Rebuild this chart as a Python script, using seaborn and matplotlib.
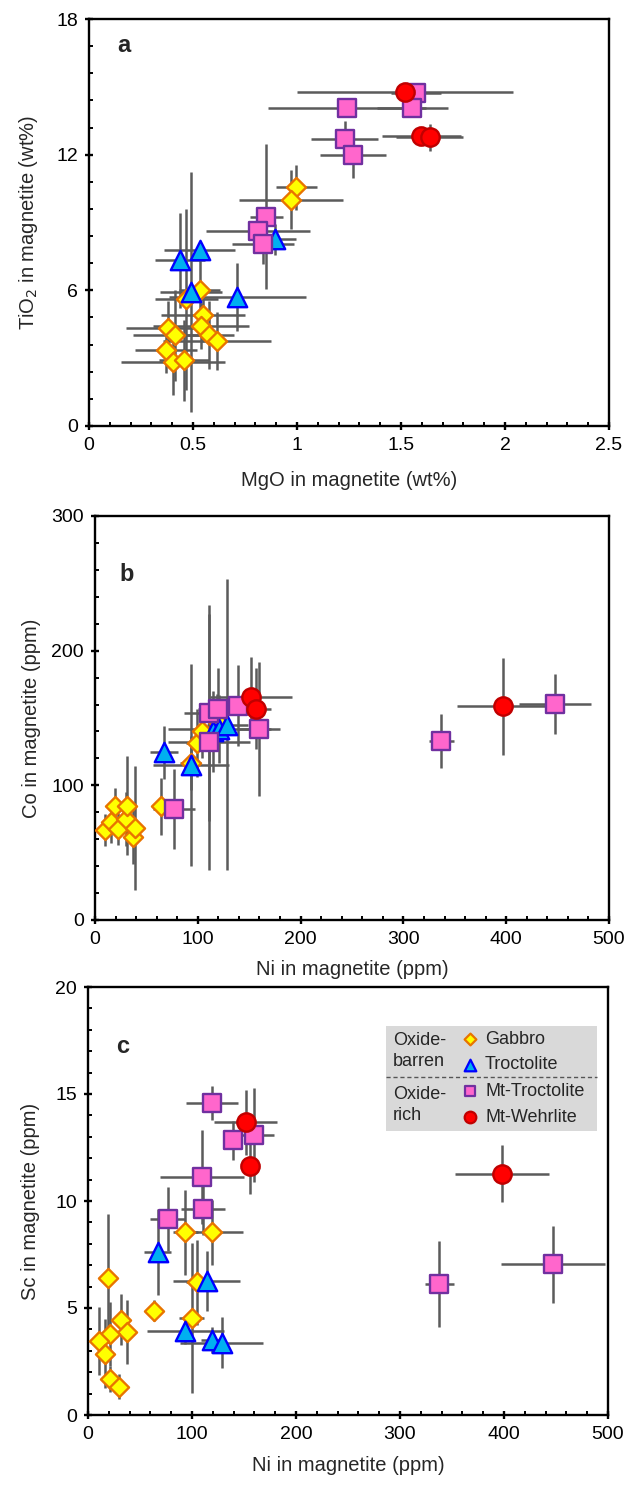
import numpy as np
import pandas as pd
import matplotlib.pyplot as plt
import seaborn as sns
from matplotlib.ticker import MultipleLocator, FuncFormatter
from matplotlib.patches import Rectangle

sns.set_theme(style="white")
plt.rcParams['font.family'] = ['Liberation Sans', 'DejaVu Sans']

# ---- panel a: MgO vs TiO2 (wt%) ----
gabbro_mgo = [0.997, 0.970, 0.532, 0.468, 0.548, 0.537, 0.575, 0.616, 0.380, 0.412, 0.369, 0.404, 0.457]
gabbro_tio2 = [10.56, 10.01, 6.00, 5.60, 4.91, 4.42, 4.01, 3.76, 4.35, 4.01, 3.35, 2.85, 2.91]
gabbro_mgo_err = [0.10, 0.25, 0.10, 0.15, 0.20, 0.23, 0.12, 0.26, 0.20, 0.20, 0.15, 0.25, 0.12]
gabbro_tio2_err = [1.0, 1.3, 2.0, 4.0, 1.2, 1.0, 1.5, 1.3, 1.2, 2.0, 1.0, 1.5, 1.8]

troct_mgo = [0.893, 0.532, 0.436, 0.489, 0.713]
troct_tio2 = [8.25, 7.78, 7.34, 5.94, 5.72]
troct_mgo_err = [0.10, 0.17, 0.12, 0.15, 0.33]
troct_tio2_err = [0.7, 0.4, 2.1, 5.3, 1.5]

mtt_mgo = [1.574, 1.555, 1.242, 1.229, 1.270, 0.853, 0.813, 0.837]
mtt_tio2 = [14.72, 14.06, 14.06, 12.70, 11.97, 9.25, 8.62, 8.07]
mtt_mgo_err = [0.12, 0.17, 0.38, 0.16, 0.16, 0.08, 0.25, 0.15]
mtt_tio2_err = [0.3, 0.3, 0.3, 0.8, 1.0, 3.2, 0.5, 0.9]

mtw_mgo = [1.518, 1.598, 1.638]
mtw_tio2 = [14.79, 12.81, 12.76]
mtw_mgo_err = [0.52, 0.19, 0.16]
mtw_tio2_err = [0.2, 0.3, 0.6]

# ---- panel b: Ni vs Co (ppm) ----
gabbro_ni_b = [9.7, 15.6, 19.5, 22.7, 30.2, 31.4, 37.3, 38.9, 63.9, 93.0, 98.9, 104.5, 118.9]
gabbro_co = [67.0, 72.5, 84.9, 67.5, 75.0, 84.9, 61.6, 68.3, 84.3, 116.8, 131.4, 140.0, 148.0]
gabbro_ni_b_err = [5, 5, 6, 6, 5, 8, 6, 8, 6, 10, 10, 10, 10]
gabbro_co_err = [12, 15, 13, 12, 20, 37, 20, 46, 21, 20, 25, 20, 20]

troct_ni_b = [67.1, 93.1, 115.0, 121.0, 128.7]
troct_co = [124.4, 115.3, 140.0, 141.8, 145.0]
troct_ni_b_err = [14, 37, 12, 50, 20]
troct_co_err = [20, 75, 30, 25, 108]

mtt_ni_b = [76.8, 110.6, 111.2, 120.0, 139.4, 159.5, 337.0, 447.5]
mtt_co = [82.4, 131.9, 153.7, 156.9, 159.1, 141.8, 133.0, 160.4]
mtt_ni_b_err = [20, 40, 25, 20, 18, 20, 12, 35]
mtt_co_err = [30, 95, 80, 30, 30, 50, 20, 22]

mtw_ni_b = [151.8, 156.6, 397.0]
mtw_co = [165.3, 156.9, 158.6]
mtw_ni_b_err = [40, 15, 45]
mtw_co_err = [30, 30, 36]

# ---- panel c: Ni vs Sc (ppm) ----
gabbro_ni_c = [19.5, 93.3, 118.9, 63.8, 104.5, 99.7, 31.4, 37.2, 21.2, 10.9, 16.3, 21.2, 30.1]
gabbro_sc = [6.38, 8.53, 8.53, 4.87, 6.20, 4.53, 4.45, 3.87, 3.78, 3.45, 2.87, 1.67, 1.33]
gabbro_ni_c_err = [5, 12, 30, 8, 10, 12, 6, 6, 5, 5, 5, 5, 5]
gabbro_sc_err = [3.0, 2.0, 1.5, 0.5, 2.0, 3.5, 1.2, 1.5, 1.5, 1.6, 1.6, 0.6, 0.6]

troct_ni_c = [67.0, 114.1, 93.3, 119.0, 128.6]
troct_sc = [7.62, 6.25, 3.92, 3.50, 3.38]
troct_ni_c_err = [13, 32, 37, 10, 40]
troct_sc_err = [2.0, 1.4, 0.6, 0.6, 1.2]

mtt_ni_c = [119.5, 139.1, 159.3, 109.6, 110.9, 76.6, 337.8, 447.4]
mtt_sc = [14.58, 12.83, 13.08, 11.12, 9.62, 9.17, 6.12, 7.05]
mtt_ni_c_err = [25, 8, 20, 40, 21, 17, 14, 50]
mtt_sc_err = [0.8, 0.9, 2.2, 2.2, 1.2, 1.5, 2.0, 1.8]

mtw_ni_c = [151.6, 155.8, 397.8]
mtw_sc = [13.67, 11.62, 11.28]
mtw_ni_c_err = [30, 8, 45]
mtw_sc_err = [1.5, 1.3, 1.35]

rock_names = ["Gabbro", "Troctolite", "Mt-Troctolite", "Mt-Wehrlite"]
styles = {
    "Gabbro": dict(marker="D", s=95, face="#ffff00", edge="#e87400"),
    "Troctolite": dict(marker="^", s=195, face="#00b0f0", edge="#0000ff"),
    "Mt-Troctolite": dict(marker="s", s=155, face="#ff66cc", edge="#7030a0"),
    "Mt-Wehrlite": dict(marker="o", s=175, face="#ff0000", edge="#c00000"),
}
err_color = "#5b5b5b"

W, H = 629, 1485
fig = plt.figure(figsize=(W / 100, H / 100), dpi=100)


def add_panel(left, top, right, bottom):
    return fig.add_axes([left / W, 1 - bottom / H, (right - left) / W, (bottom - top) / H])


def draw(ax, groups):
    for name, x, y, xe, ye in groups:
        ax.errorbar(x, y, xerr=xe, yerr=ye, fmt="none", ecolor=err_color,
                    elinewidth=1.8, capsize=0, zorder=1)
    for name, x, y, xe, ye in groups:
        st = styles[name]
        sns.scatterplot(x=x, y=y, marker=st["marker"], s=st["s"], color=st["face"],
                        edgecolor=st["edge"], linewidth=1.7, ax=ax, zorder=3, legend=False)


def style_axes(ax, xlim, ylim, xmaj, xmin, ymaj, ymin, xlabel, ylabel, letter, letter_pos,
               xlab_y, ylab_x):
    ax.set_xlim(*xlim)
    ax.set_ylim(*ylim)
    ax.xaxis.set_major_locator(MultipleLocator(xmaj))
    ax.xaxis.set_minor_locator(MultipleLocator(xmin))
    ax.yaxis.set_major_locator(MultipleLocator(ymaj))
    ax.yaxis.set_minor_locator(MultipleLocator(ymin))
    fmt = FuncFormatter(lambda v, p: f"{v:g}")
    ax.xaxis.set_major_formatter(fmt)
    ax.yaxis.set_major_formatter(fmt)
    for sp in ax.spines.values():
        sp.set_linewidth(1.7)
        sp.set_color("black")
    ax.tick_params(which="major", direction="inout", length=6, width=1.7, labelsize=14,
                   pad=5, top=False, right=False, bottom=True, left=True, colors="black")
    ax.tick_params(which="minor", direction="in", length=3, width=1.4,
                   top=False, right=False, bottom=True, left=True, colors="black")
    ax.set_xlabel(xlabel, fontsize=14.5)
    ax.set_ylabel(ylabel, fontsize=14.5)
    ax.xaxis.set_label_coords(0.5, xlab_y)
    ax.yaxis.set_label_coords(ylab_x, 0.5)
    ax.text(letter_pos[0], letter_pos[1], letter, transform=ax.transAxes, fontsize=17,
            fontweight="bold", ha="left", va="center")
    ax.set_facecolor("white")


# panel a
ax_a = add_panel(89, 19, 609, 426)
draw(ax_a, [
    ("Gabbro", gabbro_mgo, gabbro_tio2, gabbro_mgo_err, gabbro_tio2_err),
    ("Troctolite", troct_mgo, troct_tio2, troct_mgo_err, troct_tio2_err),
    ("Mt-Troctolite", mtt_mgo, mtt_tio2, mtt_mgo_err, mtt_tio2_err),
    ("Mt-Wehrlite", mtw_mgo, mtw_tio2, mtw_mgo_err, mtw_tio2_err),
])
style_axes(ax_a, (0, 2.5), (0, 18), 0.5, 0.1, 6, 1.2,
           "MgO in magnetite (wt%)", "TiO$_2$ in magnetite (wt%)", "a", (0.055, 0.936),
           -0.11, -0.095)

# panel b
ax_b = add_panel(95, 516, 609, 920)
draw(ax_b, [
    ("Gabbro", gabbro_ni_b, gabbro_co, gabbro_ni_b_err, gabbro_co_err),
    ("Troctolite", troct_ni_b, troct_co, troct_ni_b_err, troct_co_err),
    ("Mt-Troctolite", mtt_ni_b, mtt_co, mtt_ni_b_err, mtt_co_err),
    ("Mt-Wehrlite", mtw_ni_b, mtw_co, mtw_ni_b_err, mtw_co_err),
])
style_axes(ax_b, (0, 500), (0, 300), 100, 20, 100, 20,
           "Ni in magnetite (ppm)", "Co in magnetite (ppm)", "b", (0.048, 0.854),
           -0.1, -0.105)

# panel c
ax_c = add_panel(88, 987, 608, 1415)
draw(ax_c, [
    ("Gabbro", gabbro_ni_c, gabbro_sc, gabbro_ni_c_err, gabbro_sc_err),
    ("Troctolite", troct_ni_c, troct_sc, troct_ni_c_err, troct_sc_err),
    ("Mt-Troctolite", mtt_ni_c, mtt_sc, mtt_ni_c_err, mtt_sc_err),
    ("Mt-Wehrlite", mtw_ni_c, mtw_sc, mtw_ni_c_err, mtw_sc_err),
])
style_axes(ax_c, (0, 500), (0, 20), 100, 20, 5, 1,
           "Ni in magnetite (ppm)", "Sc in magnetite (ppm)", "c", (0.055, 0.86),
           -0.095, -0.092)

# legend box drawn by hand (grey panel with two groups)
ax_c.add_patch(Rectangle((0.573, 0.6636), 0.406, 0.2454, transform=ax_c.transAxes,
                         facecolor="#d9d9d9", edgecolor="none", zorder=4))
ax_c.plot([0.573, 0.979], [0.789, 0.789], transform=ax_c.transAxes, color="#555555",
          lw=1.0, ls=(0, (3, 2)), zorder=5)
group_labels = [("Oxide-", 0.876), ("barren", 0.825), ("Oxide-", 0.748), ("rich", 0.699)]
for txt, yy in group_labels:
    ax_c.text(0.586, yy, txt, transform=ax_c.transAxes, fontsize=13, va="center",
              ha="left", zorder=6)
legend_rows = [0.8785, 0.818, 0.757, 0.696]
legend_sizes = {"Gabbro": 36, "Troctolite": 70, "Mt-Troctolite": 60, "Mt-Wehrlite": 70}
for name, yy in zip(rock_names, legend_rows):
    st = styles[name]
    ax_c.scatter([0.7346], [yy], transform=ax_c.transAxes, marker=st["marker"],
                 s=legend_sizes[name], c=st["face"], edgecolors=st["edge"],
                 linewidths=1.6, zorder=6, clip_on=False)
    ax_c.text(0.7635, yy, name, transform=ax_c.transAxes, fontsize=13, va="center",
              ha="left", zorder=6)

fig.savefig("out.png", dpi=100, facecolor="white")
